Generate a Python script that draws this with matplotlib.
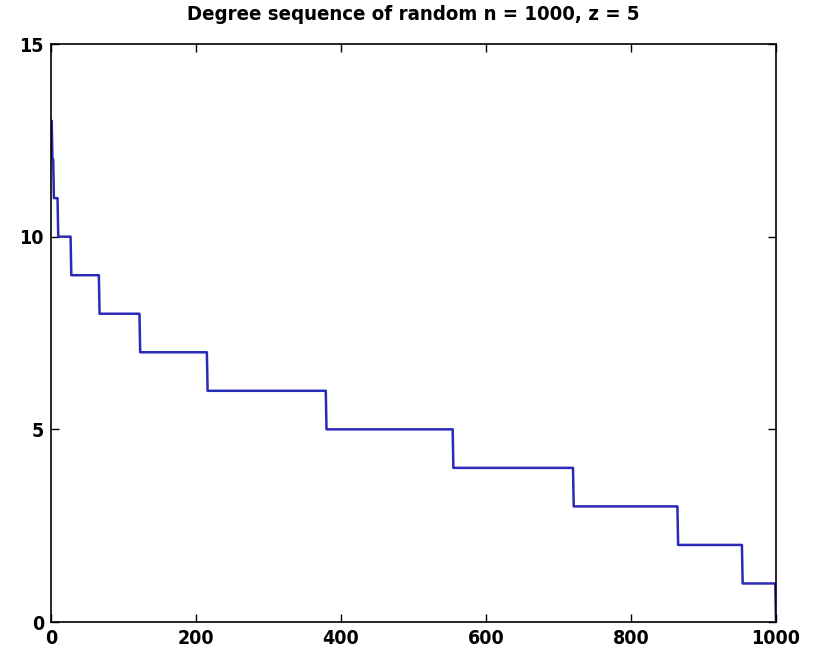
import numpy as np
import matplotlib
matplotlib.use("Agg")
import matplotlib.pyplot as plt
from matplotlib import font_manager as fm

# Degree values and how many nodes have each degree
degrees = [13, 12, 11, 10, 9, 8, 7, 6, 5, 4, 3, 2, 1, 0]
counts = [1, 2, 6, 18, 39, 56, 93, 164, 175, 166, 144, 89, 46, 1]
xticks = [0, 200, 400, 600, 800, 1000]
yticks = [0, 5, 10, 15]
title = "Degree sequence of random n = 1000, z = 5"

seq = np.repeat(degrees, counts)
idx = np.arange(1, len(seq) + 1)

names = sorted({f.name for f in fm.fontManager.ttflist})
fam = 'Liberation Sans Narrow' if 'Liberation Sans Narrow' in names else 'DejaVu Sans'
plt.rcParams['font.family'] = [fam, 'DejaVu Sans']
plt.rcParams['font.stretch'] = 'condensed'

fig = plt.figure(figsize=(8.19, 6.5), dpi=100)
ax = fig.add_axes([51 / 819, 1 - 622 / 650, (776 - 51) / 819, (622 - 44) / 650])
ax.plot(idx, seq, color='#2a2ab8', linewidth=1.8)
ax.set_xlim(0, 1000)
ax.set_ylim(0, 15)
ax.set_xticks(xticks)
ax.set_yticks(yticks)
ax.tick_params(direction='in', top=True, right=True, length=6, width=1,
               labelsize=14, pad=5)
for lbl in ax.get_xticklabels() + ax.get_yticklabels():
    lbl.set_fontweight('bold')
    lbl.set_fontstretch('condensed')
for s in ax.spines.values():
    s.set_linewidth(1.2)
ax.set_title(title, fontsize=14.6, fontweight='bold', fontstretch='condensed', pad=17)
fig.savefig("out.png", dpi=100)
